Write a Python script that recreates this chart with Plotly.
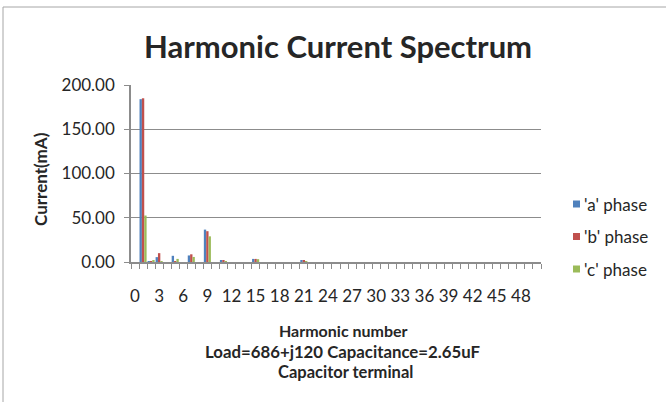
import plotly.graph_objects as go

harmonics = list(range(0, 51))
a_vals = [0.0]*51
b_vals = [0.0]*51
c_vals = [0.0]*51
# (mA)
a_pts = {1: 184.0, 2: 0.5, 3: 5.5, 5: 7.0, 7: 7.4, 9: 36.6, 11: 1.8, 15: 3.5, 21: 2.0}
b_pts = {1: 185.0, 2: 0.5, 3: 10.0, 5: 1.0, 7: 8.7, 9: 34.8, 11: 2.0, 15: 3.5, 21: 2.0}
c_pts = {1: 52.5, 2: 1.5, 3: 1.0, 5: 3.5, 7: 5.7, 9: 29.0, 11: 1.0, 15: 3.2, 21: 1.0}
for k, v in a_pts.items():
    a_vals[k] = v
for k, v in b_pts.items():
    b_vals[k] = v
for k, v in c_pts.items():
    c_vals[k] = v

tick_vals = list(range(0, 49, 3))
tick_text = [str(v) for v in tick_vals]
y_ticks = [0, 50, 100, 150, 200]
y_tick_text = ["0.00", "50.00", "100.00", "150.00", "200.00"]
series_names = ["'a' phase", "'b' phase", "'c' phase"]
colors = ["#4F81BD", "#C0504D", "#9BBB59"]

FONT = "Lato"
TXT = "#262626"

fig = go.Figure()
for name, vals, col in zip(series_names, [a_vals, b_vals, c_vals], colors):
    fig.add_trace(go.Bar(x=harmonics, y=vals, name=name, showlegend=False,
                         marker=dict(color=col, line=dict(width=0))))

L, R, T, B = 131, 125, 85, 140
W, H = 666, 402
pw, ph = W - L - R, H - T - B

def px(x):
    return (x - L) / pw

def py(y):
    return (H - B - y) / ph

fig.update_layout(
    width=W, height=H,
    margin=dict(l=L, r=R, t=T, b=B, autoexpand=False),
    paper_bgcolor="white", plot_bgcolor="white",
    barmode="group", bargap=0.12, bargroupgap=0,
    font=dict(family=FONT, color=TXT, size=17),
    showlegend=False,
    xaxis=dict(range=[-0.5, 50.5], tickmode="array", tickvals=tick_vals, ticktext=tick_text,
               ticks="", showgrid=False, zeroline=False,
               showline=True, linecolor="#8C8C8C", linewidth=1.5,
               ticklabelstandoff=18,
               tickfont=dict(size=17, family=FONT, color=TXT),
               minor=dict(tick0=-0.5, dtick=1, ticks="outside", ticklen=5, tickcolor="#8C8C8C", tickwidth=1, showgrid=False)),
    yaxis=dict(range=[0, 200], tickmode="array", tickvals=y_ticks, ticktext=y_tick_text,
               showgrid=True, gridcolor="#8C8C8C", gridwidth=1,
               zeroline=False, showline=True, linecolor="#8C8C8C", linewidth=1.5,
               ticks="outside", ticklen=5, tickcolor="#8C8C8C",
               ticklabelstandoff=6,
               tickfont=dict(size=17, family=FONT, color=TXT)),
)

annos = [
    dict(text="<b>Harmonic Current Spectrum</b>", x=px(338), y=py(46), size=31, angle=0),
    dict(text="<b>Harmonic number</b>", x=px(343), y=py(330), size=16, angle=0),
    dict(text="<b>Load=686+j120 Capacitance=2.65uF</b>", x=px(342), y=py(351), size=16.8, angle=0),
    dict(text="<b>Capacitor terminal</b>", x=px(345), y=py(372), size=16.5, angle=0),
    dict(text="<b>Current(mA)</b>", x=px(40), y=py(179), size=17, angle=-90),
]
for an in annos:
    fig.add_annotation(xref="paper", yref="paper", showarrow=False, xanchor="center", yanchor="middle",
                       font=dict(family=FONT, color=TXT, size=an["size"]),
                       text=an["text"], x=an["x"], y=an["y"], textangle=an["angle"])

# legend (drawn manually to match the Excel layout)
leg_y = [204, 236.5, 269]
for name, col, yy in zip(series_names, colors, leg_y):
    fig.add_shape(type="rect", xref="paper", yref="paper",
                  x0=px(573), x1=px(580), y0=py(yy - 3.5), y1=py(yy + 3.5),
                  fillcolor=col, line=dict(width=0))
    fig.add_annotation(xref="paper", yref="paper", showarrow=False, xanchor="left", yanchor="middle",
                       x=px(582), y=py(yy), text=name,
                       font=dict(family=FONT, color=TXT, size=17))

fig.add_shape(type="line", xref="paper", yref="paper", x0=px(3), x1=px(666), y0=py(7), y1=py(7),
              line=dict(color="#A6A6A6", width=1))
fig.add_shape(type="line", xref="paper", yref="paper", x0=px(3), x1=px(3), y0=py(7), y1=py(402),
              line=dict(color="#A6A6A6", width=1))

fig.write_html("out.html", config={"displayModeBar": False},
               post_script="document.body.style.margin='0';document.body.style.overflow='hidden';")
